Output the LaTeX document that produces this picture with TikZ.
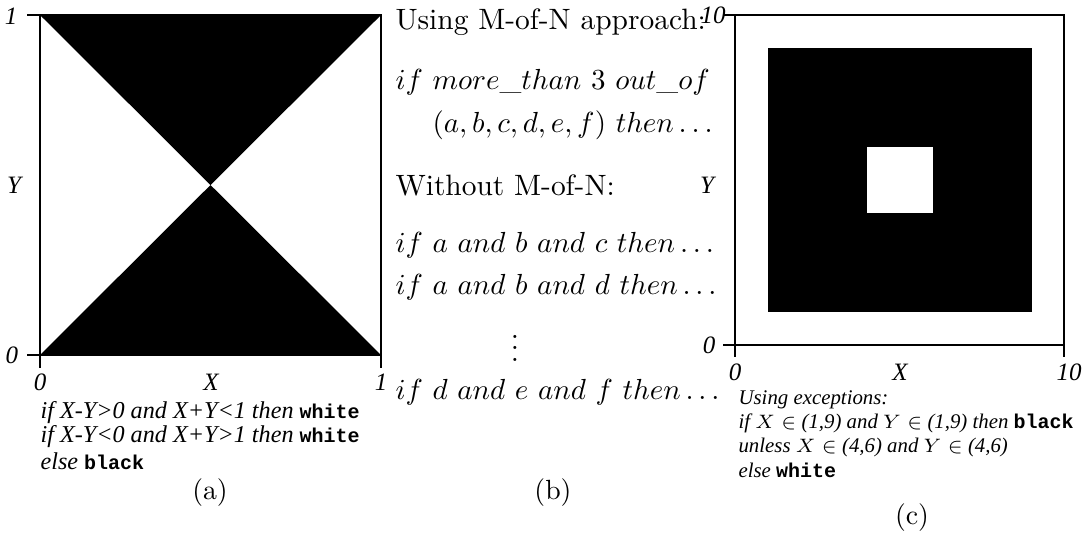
\documentclass[tikz,border=0pt]{standalone}
\usepackage{fontspec}
\newfontfamily\rulefont{Liberation Serif}
\newfontfamily\rulemono{Liberation Mono}

\tikzset{
  axis/.style={line width=0.6pt},
  ticklabel/.style={font=\rulefont\fontsize{9}{10}\selectfont\itshape, inner sep=1pt},
  rule/.style={font=\rulefont\fontsize{8.7}{10}\selectfont\itshape, anchor=west, inner sep=0pt},
  smallrule/.style={rule, font=\rulefont\fontsize{7.5}{10}\selectfont\itshape},
  heading/.style={font=\fontsize{10.6}{13}\selectfont, anchor=west, inner sep=0pt},
  logic/.style={font=\fontsize{10.95}{13}\selectfont, anchor=west, inner sep=0pt},
  caption/.style={inner sep=0pt}
}
\newcommand{\colname}[1]{{\upshape\rulemono\bfseries\fontsize{7.2}{10}\selectfont #1}}
\newcommand{\mofnexpr}[1]{\scalebox{0.955}{$#1$}}

\begin{document}
\begin{tikzpicture}[x=0.36pt, y=-0.36pt]
	\useasboundingbox (0,0) rectangle (1091,546);

	% (a) two black triangles
	\fill (40,15) -- (381,15) -- (210.5,185) -- cycle;
	\fill (40,355) -- (381,355) -- (210.5,185) -- cycle;
	\draw[axis] (40,15) rectangle (381,355);
	\draw[axis] (27,15) -- (40,15);
	\draw[axis] (27,355) -- (40,355) -- (40,368);
	\draw[axis] (381,355) -- (381,368);

	\node[ticklabel] (ayone) at (11,16) {1};
	\node[ticklabel] (ayzero) at (12,355) {0};
	\node[ticklabel] (aylab) at (14,185) {Y};
	\node[ticklabel] (axzero) at (40,382) {0};
	\node[ticklabel] (axlab) at (211,382) {X};
	\node[ticklabel] (axone) at (381,382) {1};

	\node[rule] (arulea) at (40,413) {if X-Y>0 and X+Y<1 then \colname{white}};
	\node[rule] (aruleb) at (40,437) {if X-Y<0 and X+Y>1 then \colname{white}};
	\node[rule] (arulec) at (40,461) {else \colname{black}};
	\node[caption] (capa) at (210,493) {(a)};

	% (b) rules with and without M-of-N
	\node[heading] (mofn) at (395,22) {Using M-of-N approach:};
	\node[logic] (mofna) at (395,82) {\mofnexpr{if\ more\_than\ 3\ out\_of}};
	\node[logic] (mofnb) at (432,125) {\mofnexpr{(a,b,c,d,e,f)\ then\ldots}};
	\node[heading] (plain) at (395,185) {Without M-of-N:};
	\node[logic] (plaina) at (395,245) {\mofnexpr{if\ a\ and\ b\ and\ c\ then\ldots}};
	\node[logic] (plainb) at (395,287) {\mofnexpr{if\ a\ and\ b\ and\ d\ then\ldots}};
	\node[font=\fontsize{10.6}{13}\selectfont] (plaindots) at (515,340) {$\vdots$};
	\node[logic] (plainc) at (395,392) {\mofnexpr{if\ d\ and\ e\ and\ f\ then\ldots}};
	\node[caption] (capb) at (553,493) {(b)};

	% (c) square with a hole
	\fill (768,48) rectangle (1032,312);
	\fill[white] (867,147) rectangle (933,213);
	\draw[axis] (735,15) rectangle (1064,345);
	\draw[axis] (723,15) -- (735,15);
	\draw[axis] (723,345) -- (735,345) -- (735,357);
	\draw[axis] (1064,345) -- (1064,357);

	\node[ticklabel] (cyten) at (713,15) {10};
	\node[ticklabel] (cyzero) at (709,345) {0};
	\node[ticklabel] (cylab) at (707,185) {Y};
	\node[ticklabel] (cxzero) at (735,372) {0};
	\node[ticklabel] (cxlab) at (900,372) {X};
	\node[ticklabel] (cxten) at (1069,372) {10};

	\node[smallrule] (crulea) at (738,400) {Using exceptions:};
	\node[smallrule] (cruleb) at (738,423) {if $X\in$ (1,9) and $Y\in$ (1,9) then \colname{black}};
	\node[smallrule] (crulec) at (738,447) {unless $X\in$ (4,6) and $Y\in$ (4,6)};
	\node[smallrule] (cruled) at (738,470) {else \colname{white}};
	\node[caption] (capc) at (912,518) {(c)};
\end{tikzpicture}
\end{document}
